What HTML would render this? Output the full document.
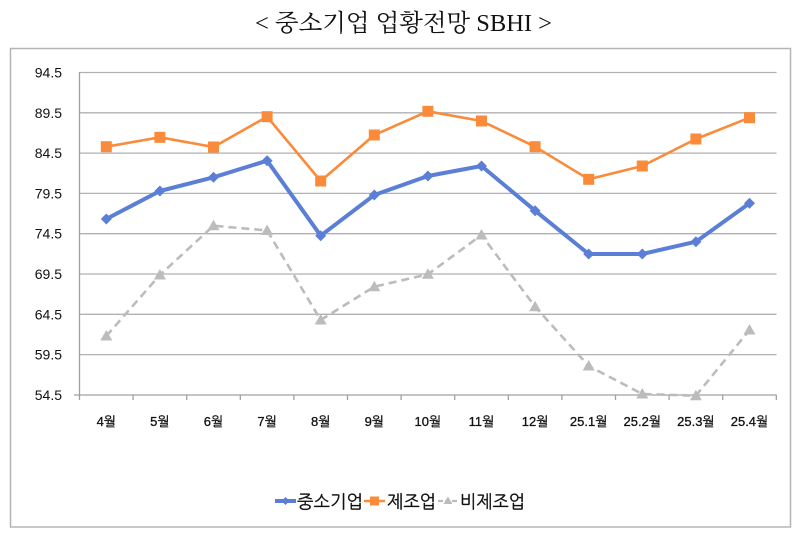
<!DOCTYPE html>
<html>
<head>
<meta charset="utf-8">
<style>
html,body{margin:0;padding:0;background:#fff;}
svg{display:block;}
</style>
</head>
<body>
<svg width="800" height="542" viewBox="0 0 800 542" xmlns="http://www.w3.org/2000/svg">
  <rect x="0" y="0" width="800" height="542" fill="#fff"/>
  <!-- title -->
  <text x="255" y="31" font-family="'Liberation Serif','Noto Serif CJK SC',serif" font-size="24" fill="#111" textLength="297" lengthAdjust="spacingAndGlyphs">&lt; 중소기업 업황전망 SBHI &gt;</text>
  <!-- frame -->
  <rect x="10.5" y="48.5" width="780" height="478.5" fill="#fff" stroke="#b5b5b5" stroke-width="1.5"/>
  <!-- gridlines -->
  <g stroke="#b0b0b0" stroke-width="1.3">
    <line x1="79.5" y1="72.5" x2="776.5" y2="72.5"/>
    <line x1="79.5" y1="112.8" x2="776.5" y2="112.8"/>
    <line x1="79.5" y1="153.1" x2="776.5" y2="153.1"/>
    <line x1="79.5" y1="193.4" x2="776.5" y2="193.4"/>
    <line x1="79.5" y1="233.7" x2="776.5" y2="233.7"/>
    <line x1="79.5" y1="274.0" x2="776.5" y2="274.0"/>
    <line x1="79.5" y1="314.3" x2="776.5" y2="314.3"/>
    <line x1="79.5" y1="354.6" x2="776.5" y2="354.6"/>
  </g>
  <!-- axes -->
  <g stroke="#a0a0a0" stroke-width="1.3">
    <line x1="79.5" y1="72" x2="79.5" y2="395"/>
    <line x1="74" y1="395" x2="776.5" y2="395"/>
    <line x1="79.5" y1="395" x2="79.5" y2="400"/>
    <line x1="133.1" y1="395" x2="133.1" y2="400"/>
    <line x1="186.7" y1="395" x2="186.7" y2="400"/>
    <line x1="240.3" y1="395" x2="240.3" y2="400"/>
    <line x1="293.9" y1="395" x2="293.9" y2="400"/>
    <line x1="347.5" y1="395" x2="347.5" y2="400"/>
    <line x1="401.1" y1="395" x2="401.1" y2="400"/>
    <line x1="454.7" y1="395" x2="454.7" y2="400"/>
    <line x1="508.3" y1="395" x2="508.3" y2="400"/>
    <line x1="561.9" y1="395" x2="561.9" y2="400"/>
    <line x1="615.5" y1="395" x2="615.5" y2="400"/>
    <line x1="669.1" y1="395" x2="669.1" y2="400"/>
    <line x1="722.7" y1="395" x2="722.7" y2="400"/>
    <line x1="776.3" y1="395" x2="776.3" y2="400"/>
  </g>
  <!-- y labels -->
  <g font-family="'Liberation Sans','NanumGothic',sans-serif" font-size="14" fill="#111" text-anchor="end">
    <text x="62" y="77.5">94.5</text>
    <text x="62" y="117.8">89.5</text>
    <text x="62" y="158.1">84.5</text>
    <text x="62" y="198.4">79.5</text>
    <text x="62" y="238.7">74.5</text>
    <text x="62" y="279">69.5</text>
    <text x="62" y="319.3">64.5</text>
    <text x="62" y="359.6">59.5</text>
    <text x="62" y="400">54.5</text>
  </g>
  <!-- x labels -->
  <g font-family="'Liberation Sans','NanumGothic',sans-serif" font-size="13" fill="#111" text-anchor="middle" stroke="#111" stroke-width="0.3">
    <text x="106.3" y="426">4월</text>
    <text x="159.9" y="426">5월</text>
    <text x="213.5" y="426">6월</text>
    <text x="267.1" y="426">7월</text>
    <text x="320.7" y="426">8월</text>
    <text x="374.3" y="426">9월</text>
    <text x="427.9" y="426">10월</text>
    <text x="481.5" y="426">11월</text>
    <text x="535.1" y="426">12월</text>
    <text x="588.7" y="426">25.1월</text>
    <text x="642.3" y="426">25.2월</text>
    <text x="695.9" y="426">25.3월</text>
    <text x="749.5" y="426">25.4월</text>
  </g>

  <defs>
    <path id="dia" d="M0,-5.5 L5.5,0 L0,5.5 L-5.5,0 Z" fill="#5b7fd6"/>
    <rect id="sq" x="-5.5" y="-5.5" width="11" height="11" fill="#f98b3a"/>
    <path id="tri" d="M0,-6 L6,4.5 L-6,4.5 Z" fill="#bcbcbc"/>
  </defs>

  <!-- blue series -->
  <polyline fill="none" stroke="#5b7fd6" stroke-width="4" stroke-linejoin="round"
    points="106.3,219 159.9,191 213.5,177.3 267.1,160.7 320.7,235.7 374.3,195 427.9,176 481.5,166 535.1,210.7 588.7,254 642.3,254 695.9,241.7 749.5,203.3"/>
  <g>
    <use href="#dia" x="106.3" y="219"/>
    <use href="#dia" x="159.9" y="191"/>
    <use href="#dia" x="213.5" y="177.3"/>
    <use href="#dia" x="267.1" y="160.7"/>
    <use href="#dia" x="320.7" y="235.7"/>
    <use href="#dia" x="374.3" y="195"/>
    <use href="#dia" x="427.9" y="176"/>
    <use href="#dia" x="481.5" y="166"/>
    <use href="#dia" x="535.1" y="210.7"/>
    <use href="#dia" x="588.7" y="254"/>
    <use href="#dia" x="642.3" y="254"/>
    <use href="#dia" x="695.9" y="241.7"/>
    <use href="#dia" x="749.5" y="203.3"/>
  </g>

  <!-- orange series -->
  <polyline fill="none" stroke="#f98b3a" stroke-width="2.6" stroke-linejoin="round"
    points="106.3,146.7 159.9,137.3 213.5,147 267.1,116.7 320.7,181 374.3,135 427.9,111.3 481.5,121 535.1,146.7 588.7,179.3 642.3,166 695.9,139 749.5,117.7"/>
  <g>
    <use href="#sq" x="106.3" y="146.7"/>
    <use href="#sq" x="159.9" y="137.3"/>
    <use href="#sq" x="213.5" y="147"/>
    <use href="#sq" x="267.1" y="116.7"/>
    <use href="#sq" x="320.7" y="181"/>
    <use href="#sq" x="374.3" y="135"/>
    <use href="#sq" x="427.9" y="111.3"/>
    <use href="#sq" x="481.5" y="121"/>
    <use href="#sq" x="535.1" y="146.7"/>
    <use href="#sq" x="588.7" y="179.3"/>
    <use href="#sq" x="642.3" y="166"/>
    <use href="#sq" x="695.9" y="139"/>
    <use href="#sq" x="749.5" y="117.7"/>
  </g>

  <!-- gray series -->
  <polyline fill="none" stroke="#bcbcbc" stroke-width="2.6" stroke-dasharray="8,5" stroke-linejoin="round"
    points="106.3,336 159.9,275 213.5,225.7 267.1,230.5 320.7,320 374.3,286.7 427.9,274.3 481.5,235 535.1,306.7 588.7,366 642.3,394 695.9,395.7 749.5,330"/>
  <g>
    <use href="#tri" x="106.3" y="336"/>
    <use href="#tri" x="159.9" y="275"/>
    <use href="#tri" x="213.5" y="225.7"/>
    <use href="#tri" x="267.1" y="230.5"/>
    <use href="#tri" x="320.7" y="320"/>
    <use href="#tri" x="374.3" y="286.7"/>
    <use href="#tri" x="427.9" y="274.3"/>
    <use href="#tri" x="481.5" y="235"/>
    <use href="#tri" x="535.1" y="306.7"/>
    <use href="#tri" x="588.7" y="366"/>
    <use href="#tri" x="642.3" y="394"/>
    <use href="#tri" x="695.9" y="395.7"/>
    <use href="#tri" x="749.5" y="330"/>
  </g>

  <!-- legend -->
  <g>
    <line x1="275" y1="501" x2="296" y2="501" stroke="#5b7fd6" stroke-width="4"/>
    <path d="M285.5,497 L289.5,501 L285.5,505 L281.5,501 Z" fill="#5b7fd6"/>
    <text x="297" y="508" font-family="'Liberation Sans','NanumGothic',sans-serif" font-size="18" fill="#111" stroke="#111" stroke-width="0.3" textLength="66" lengthAdjust="spacingAndGlyphs">중소기업</text>
    <line x1="364" y1="501" x2="385" y2="501" stroke="#f98b3a" stroke-width="2.6"/>
    <rect x="370" y="496.5" width="9" height="9" fill="#f98b3a"/>
    <text x="387" y="508" font-family="'Liberation Sans','NanumGothic',sans-serif" font-size="18" fill="#111" stroke="#111" stroke-width="0.3" textLength="49" lengthAdjust="spacingAndGlyphs">제조업</text>
    <line x1="438" y1="501" x2="458" y2="501" stroke="#bcbcbc" stroke-width="2.2" stroke-dasharray="5,2"/>
    <path d="M448,496.5 L452.5,504 L443.5,504 Z" fill="#bcbcbc"/>
    <text x="460" y="508" font-family="'Liberation Sans','NanumGothic',sans-serif" font-size="18" fill="#111" stroke="#111" stroke-width="0.3" textLength="65" lengthAdjust="spacingAndGlyphs">비제조업</text>
  </g>
</svg>
</body>
</html>
